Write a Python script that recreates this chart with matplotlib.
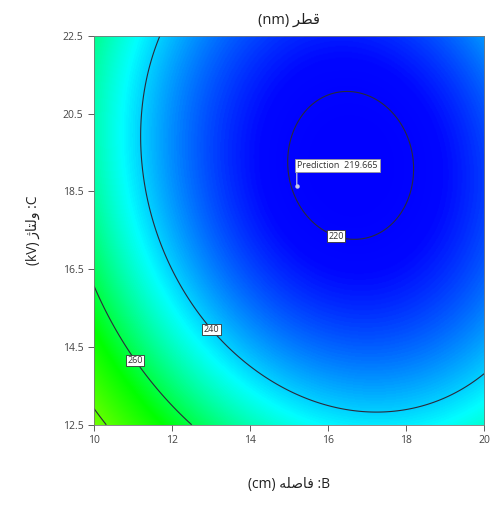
import matplotlib
matplotlib.use("Agg")
import matplotlib.pyplot as plt
import numpy as np
from matplotlib.colors import LinearSegmentedColormap

plt.rcParams["font.family"] = ["Open Sans", "DejaVu Sans"]

# Response surface (model)
B_RANGE = [10.0, 20.0]          # B: distance (cm)
C_RANGE = [12.5, 22.5]          # C: voltage (kV)
CENTER = [16.58, 19.17]         # stationary point (B, C)
F_MIN = 218.0
COEF_BB = 0.77
COEF_CC = 0.555
COEF_BC = 0.18                  # interaction, fades in away from the centre
BC_SCALE = 5.0
LEVELS = [220, 240, 260, 280]
LABEL_POS = [(16.26, 17.5), (13.13, 15.05), (11.15, 14.22)]
PRED_POINT = (15.2, 18.64)
PRED_TEXT = "Prediction  219.665"
X_TICKS = [10, 12, 14, 16, 18, 20]
Y_TICKS = [12.5, 14.5, 16.5, 18.5, 20.5, 22.5]

# colour scale stops (response value, colour)
COLOR_VALUES = [218, 222, 244, 266, 305, 340]
COLOR_LIST = ["#0000ff", "#0006ff", "#00ffff", "#00ff00", "#ffff00", "#ff0000"]

# Persian labels, pre-shaped (presentation forms, visual order)
TITLE = "(nm) \uFEAE\uFEC4\uFED7"                       # قطر (nm)
XLABEL = "(cm) \uFEEA\uFEE0\uFEBB\uFE8E\uFED3 :B"       # B: فاصله (cm)
YLABEL = "(kV) \uFB8A\uFE8E\uFE98\uFEDF\uFEED :C"       # C: ولتاژ (kV)

b = np.linspace(*B_RANGE, 400)
c = np.linspace(*C_RANGE, 400)
BB, CC = np.meshgrid(b, c)
db = BB - CENTER[0]
dc = CC - CENTER[1]
r2 = db ** 2 + dc ** 2
Z = (F_MIN + COEF_BB * db ** 2 + COEF_CC * dc ** 2
     + COEF_BC * db * dc * r2 / (r2 + BC_SCALE))

vmin, vmax = COLOR_VALUES[0], COLOR_VALUES[-1]
cmap = LinearSegmentedColormap.from_list(
    "de", [((v - vmin) / (vmax - vmin), col)
           for v, col in zip(COLOR_VALUES, COLOR_LIST)])

fig = plt.figure(figsize=(4.97, 5.13), dpi=100)
ax = fig.add_axes([0.189, 0.172, 0.785, 0.758])
ax.imshow(Z, origin="lower", extent=B_RANGE + C_RANGE, aspect="auto",
          cmap=cmap, vmin=vmin, vmax=vmax, interpolation="bilinear")
cs = ax.contour(BB, CC, Z, levels=LEVELS, colors="#2a2a3a", linewidths=0.8)
labels = ax.clabel(cs, levels=LEVELS[:3], manual=LABEL_POS, fmt="%d",
                   fontsize=6.5, inline=False)
for t in labels:
    t.set_rotation(0)
    t.set_color("#333333")
    t.set_bbox(dict(boxstyle="square,pad=0.15", fc="white", ec="#333333",
                    lw=0.6))

ax.plot(*PRED_POINT, "o", ms=2.2, color="#c8c8e8", zorder=4)
ax.annotate(PRED_TEXT, xy=PRED_POINT, xytext=(15.2, 19.05),
            fontsize=6.5, color="#333333", ha="left", va="bottom",
            bbox=dict(boxstyle="square,pad=0.25", fc="white", ec="#999999",
                      lw=0.6),
            arrowprops=dict(arrowstyle="-", color="#dddddd", lw=0.8,
                            shrinkA=0, shrinkB=0, relpos=(0.0, 0.0)))

ax.set_xlim(B_RANGE)
ax.set_ylim(C_RANGE)
ax.set_xticks(X_TICKS)
ax.set_yticks(Y_TICKS)
ax.tick_params(labelsize=7.5, colors="#444444", length=4, width=0.6)
for s in ax.spines.values():
    s.set_color("#777777")
    s.set_linewidth(0.6)

ax.set_xlabel(XLABEL, fontsize=10, labelpad=22, color="#222222")
ax.set_ylabel(YLABEL, fontsize=10, labelpad=16, color="#222222")
ax.set_title(TITLE, fontsize=10.5, pad=9, color="#222222")

fig.savefig("out.png", dpi=100)
